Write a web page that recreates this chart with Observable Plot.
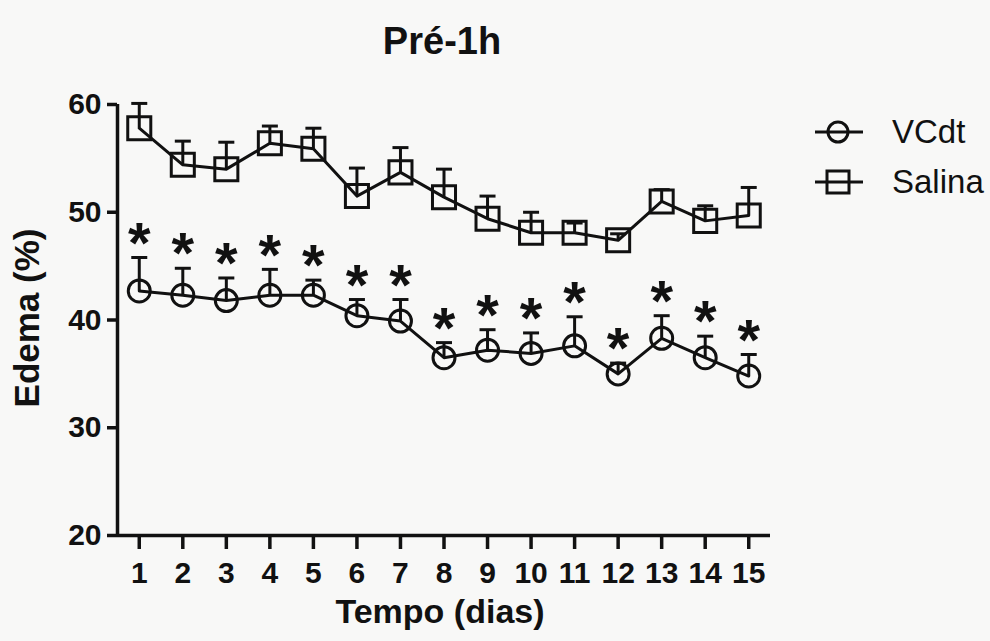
<!DOCTYPE html>
<html>
<head>
<meta charset="utf-8">
<script src="https://cdn.jsdelivr.net/npm/d3@7"></script>
<script src="https://cdn.jsdelivr.net/npm/@observablehq/plot@0.6"></script>
<style>
  html, body { margin: 0; padding: 0; background: #f8f8f7; }
  #wrap { position: relative; width: 990px; height: 641px; overflow: hidden; font-family: "Liberation Sans", Arial, sans-serif; color: #111; }
  #chart { position: absolute; left: 0; top: 0; }
  #chart svg text { font-weight: bold; }
  .title { position: absolute; left: 342px; width: 200px; top: 22px; text-align: center; font-size: 38px; font-weight: bold; line-height: 38px; }
  .xlabel { position: absolute; left: 240px; width: 400px; top: 594px; text-align: center; font-size: 34px; font-weight: bold; line-height: 34px; }
  .ylabel { position: absolute; left: 27px; top: 318px; width: 300px; margin-left: -150px; text-align: center; font-size: 35px; font-weight: bold; line-height: 34px; transform: translateY(-17px) rotate(-90deg); }
  .leg { position: absolute; left: 812px; height: 40px; display: flex; align-items: center; font-size: 33px; }
  .leg svg { width: 54px; height: 40px; margin-right: 26px; }
</style>
</head>
<body>
<div id="wrap">
  <div id="chart"></div>
  <div class="title">Pré-1h</div>
  <div class="xlabel">Tempo (dias)</div>
  <div class="ylabel">Edema (%)</div>
  <div class="leg" style="top:112px">
    <svg viewBox="0 0 54 40"><line x1="3" x2="51" y1="20" y2="20" stroke="#111" stroke-width="3"/><circle cx="26" cy="20" r="10" fill="none" stroke="#111" stroke-width="3"/></svg>
    <span>VCdt</span>
  </div>
  <div class="leg" style="top:162px">
    <svg viewBox="0 0 54 40"><line x1="3" x2="51" y1="20" y2="20" stroke="#111" stroke-width="3"/><rect x="15" y="9" width="22" height="22" fill="none" stroke="#111" stroke-width="3"/></svg>
    <span>Salina</span>
  </div>
</div>
<script>
// ---- data ----
const days = [1, 2, 3, 4, 5, 6, 7, 8, 9, 10, 11, 12, 13, 14, 15];
const salinaMean = [57.8, 54.4, 54.0, 56.4, 55.9, 51.5, 53.7, 51.4, 49.4, 48.1, 48.1, 47.4, 51.0, 49.2, 49.7];
const salinaSem  = [2.3, 2.2, 2.5, 1.6, 1.9, 2.6, 2.3, 2.6, 2.1, 1.9, 0.9, 0.6, 1.1, 1.4, 2.6];
const vcdtMean   = [42.7, 42.3, 41.8, 42.3, 42.3, 40.4, 39.9, 36.5, 37.2, 36.9, 37.6, 35.0, 38.3, 36.5, 34.8];
const vcdtSem    = [3.1, 2.5, 2.1, 2.4, 1.4, 1.5, 2.0, 1.4, 1.9, 1.9, 2.7, 1.0, 2.1, 2.0, 2.0];
const vcdtSignificant = [true, true, true, true, true, true, true, true, true, true, true, true, true, true, true];
const yTicks = [20, 30, 40, 50, 60];
const xTicks = days;

const salina = days.map((d, i) => ({day: d, series: "Salina", mean: salinaMean[i], sem: salinaSem[i]}));
const vcdt = days.map((d, i) => ({day: d, series: "VCdt", mean: vcdtMean[i], sem: vcdtSem[i], sig: vcdtSignificant[i]}));
const all = salina.concat(vcdt);

const capSymbol = {
  draw(ctx, size) {
    const r = Math.sqrt(size / Math.PI);
    ctx.moveTo(-r, 0);
    ctx.lineTo(r, 0);
  }
};

const ink = "#111";
const chart = Plot.plot({
  width: 990,
  height: 641,
  marginTop: 104,
  marginBottom: 106,
  marginLeft: 117,
  marginRight: 220,
  style: {background: "transparent", fontFamily: "'Liberation Sans', Arial, sans-serif", color: ink},
  x: {domain: [0.5, 15.5]},
  y: {domain: [20, 60]},
  marks: [
    Plot.axisY({ticks: yTicks, tickSize: 10, tickPadding: 6, fontSize: 30, label: null, strokeWidth: 3.5, stroke: ink}),
    Plot.axisX({ticks: xTicks, tickFormat: d => String(d), tickSize: 14, tickPadding: 12, fontSize: 30, label: null, strokeWidth: 3.5, stroke: ink}),
    Plot.ruleX([0.5], {stroke: ink, strokeWidth: 3.5}),
    Plot.ruleY([20], {stroke: ink, strokeWidth: 3.5}),
    Plot.ruleX(all, {x: "day", y1: "mean", y2: d => d.mean + d.sem, stroke: ink, strokeWidth: 3}),
    Plot.dot(all, {x: "day", y: d => d.mean + d.sem, symbol: capSymbol, r: 8, stroke: ink, strokeWidth: 3}),
    Plot.line(all, {x: "day", y: "mean", z: "series", stroke: ink, strokeWidth: 3}),
    Plot.dot(vcdt, {x: "day", y: "mean", symbol: "circle", r: 11, fill: "none", stroke: ink, strokeWidth: 3}),
    Plot.dot(salina, {x: "day", y: "mean", symbol: "square", r: 13, fill: "none", stroke: ink, strokeWidth: 3}),
    Plot.text(vcdt.filter(d => d.sig), {x: "day", y: d => d.mean + d.sem, text: () => "*", fontSize: 58, fontWeight: "bold", lineAnchor: "top", dy: -36, fill: ink})
  ]
});
document.getElementById("chart").appendChild(chart);
</script>
</body>
</html>
